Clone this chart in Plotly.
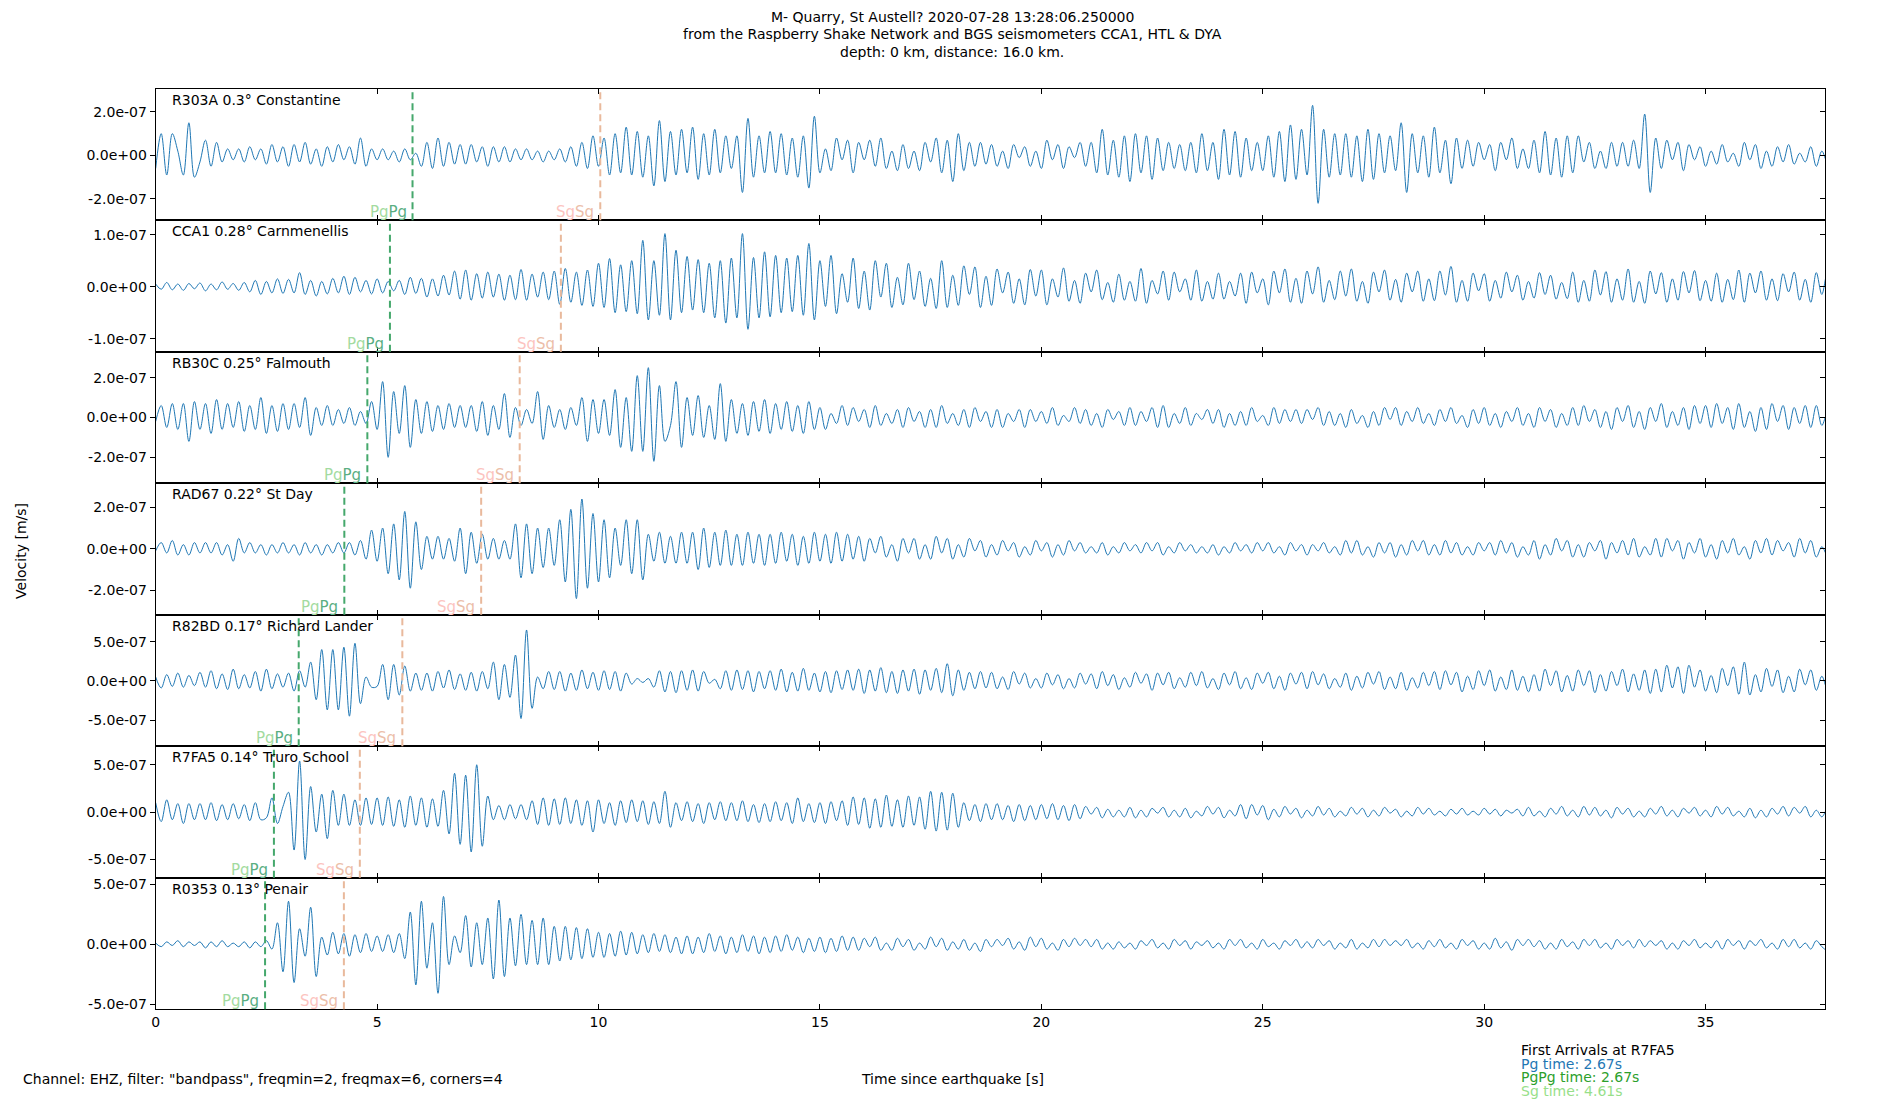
import numpy as np
import plotly.graph_objects as go

# ---------------- data ----------------
station_labels = ["R303A 0.3° Constantine", "CCA1 0.28° Carnmenellis", "RB30C 0.25° Falmouth",
                  "RAD67 0.22° St Day", "R82BD 0.17° Richard Lander", "R7FA5 0.14° Truro School",
                  "R0353 0.13° Penair"]
pg_times = [5.80, 5.29, 4.78, 4.26, 3.23, 2.67, 2.47]
sg_times = [10.04, 9.15, 8.22, 7.35, 5.57, 4.61, 4.25]
sample_interval = 0.125   # s between read-off extremes
value_unit = 1e-8         # m/s, unit of the velocity lists below

# velocities (units of 1e-8 m/s), 8 values per second
vel_r303a = [
    -6, 10, -9, 10, 2, -9, 15, -10,   -3, 7, -5, 6, -3, 3, -2, 3,   -3, 4, -2, 3, -4, 5, -3, 4,
    -5, 5, -3, 6, -4, 3, -5, 4,       -3, 5, -2, 4, -4, 8, -5, 3,   -2, 3, -2, 2, -3, 3, -2, 1,
    -5, 6, -6, 8, -5, 6, -4, 5,       -4, 5, -3, 4, -5, 4, -3, 4,   -3, 3, -2, 3, -2, 2, -3, 2,
    -2, 3, -3, 4, -5, 6, -6, 9,       -5, 8, -9, 10, -8, 13, -9, 11, -10, 9, -14, 16, -12, 11, -9, 12,
    -8, 13, -11, 10, -9, 12, -8, 9,   -6, 9, -17, 17, -10, 9, -8, 11, -8, 10, -9, 8, -10, 9, -15, 18,
    -8, 3, -7, 8, -2, 7, -8, 6,       -2, 7, -5, 8, -6, 2, -7, 5,   -6, 2, -7, 6, -3, 8, -8, 7,
    -12, 10, -7, 6, -5, 6, -4, 5,     -5, 2, -6, 5, -1, 4, -5, 2,   -6, 7, -2, 5, -6, 4, -1, 6,
    -5, 6, -8, 12, -9, 7, -10, 9,     -12, 10, -8, 9, -11, 8, -7, 6, -6, 5, -7, 6, -8, 10, -7, 6,
    -11, 12, -9, 11, -10, 8, -7, 6,   -7, 9, -10, 11, -12, 14, -11, 12, -9, 23, -22, 12, -10, 10, -9, 10,
    -10, 9, -12, 12, -11, 10, -8, 9,  -7, 15, -17, 10, -8, 9, -10, 13, -8, 7, -13, 8, -6, 7, -5, 6,
    -2, 5, -7, 6, -2, 8, -6, 3,       -6, 7, -8, 11, -9, 8, -10, 9,  -8, 9, -3, 6, -6, 2, -6, 6,
    -5, 6, -5, 7, -6, 19, -17, 8,     -6, 7, -2, 6, -7, 5, -2, 4,   -5, 2, -4, 5, -3, 1, -5, 6,
    -2, 5, -6, 2, -5, 4, -3, 5,       -4, 1, -3, 4, -5, 2, -3, 2]

vel_cca1 = [
    0.5, -0.5, 0.8, -0.6, 0.5, -0.7, 0.6, -0.4,   0.7, -0.8, 0.5, -0.6, 0.9, -0.5, 0.6, -0.7,
    0.8, -1.0, 1.2, -1.5, 1.0, -1.2, 1.5, -1.3,   1.4, -1.2, 2.7, -1.5, 1.2, -1.8, 1.0, -1.4,
    1.6, -1.2, 2.0, -1.5, 1.8, -1.0, 1.2, -1.4,   1.5, -1.2, 1.0, -0.8, 1.2, -1.5, 1.8, -1.3,
    1.6, -2.0, 1.5, -1.8, 2.2, -1.6, 3.0, -2.4,   3.2, -2.6, 2.5, -2.2, 2.8, -2.0, 2.4, -2.6,
    2.2, -2.5, 3.3, -2.6, 2.4, -2.0, 2.8, -2.5,   3.0, -3.4, 3.5, -3.0, 2.8, -3.6, 3.2, -3.8,
    4.5, -4.0, 5.4, -5.0, 4.2, -4.8, 5.0, -5.2,   8.9, -6.4, 5.0, -5.5, 10.2, -6.4, 7.0, -5.0,
    5.8, -4.5, 5.2, -5.0, 4.5, -6.0, 5.0, -7.0,   5.5, -6.0, 10.2, -8.2, 5.6, -6.0, 6.7, -5.8,
    6.0, -5.0, 5.5, -4.8, 6.0, -5.5, 8.3, -6.4,   5.0, -3.8, 6.0, -5.2, 2.5, -3.0, 5.5, -4.2,
    3.0, -4.5, 5.0, -2.0, 4.5, -4.0, 1.8, -3.5,   4.5, -2.5, 3.0, -3.8, 1.6, -4.2, 5.0, -4.0,
    2.2, -3.6, 4.0, -1.5, 3.8, -4.0, 2.0, -3.6,   3.4, -1.2, 2.8, -3.2, 1.5, -3.5, 3.3, -1.8,
    3.2, -3.5, 1.5, -2.0, 3.6, -2.8, 1.2, -3.2,   2.6, -1.0, 3.2, -2.5, 0.8, -3.0, 2.4, -2.6,
    1.0, -2.8, 3.5, -3.2, 1.2, -1.4, 3.0, -2.6,   2.8, -1.0, 1.5, -2.6, 3.2, -2.8, 1.0, -2.4,
    2.6, -2.4, 1.0, -1.8, 2.6, -3.2, 2.8, -1.2,   1.5, -3.5, 3.0, -1.2, 3.4, -3.0, 1.6, -3.2,
    3.0, -1.4, 3.8, -3.0, 1.2, -2.5, 3.0, -1.8,   3.4, -2.8, 1.0, -3.2, 2.8, -1.0, 3.2, -2.6,
    1.4, -3.0, 2.6, -1.0, 3.0, -2.8, 1.5, -2.7,   3.0, -1.6, 3.9, -3.0, 1.2, -2.8, 2.6, -0.8,
    2.5, -2.8, 1.2, -2.2, 2.8, -1.0, 2.2, -2.6,   1.0, -2.2, 2.7, -1.5, 2.2, -2.4, 0.8, -2.3,
    2.8, -3.0, 1.2, -2.8, 3.2, -1.6, 2.9, -3.0,   1.5, -2.6, 3.4, -3.0, 1.0, -3.2, 3.0, -1.4,
    2.7, -3.0, 1.5, -2.6, 2.9, -1.2, 3.1, -2.7,   1.2, -2.8, 2.6, -3.0, 1.4, -2.5, 3.2, -3.0,
    2.6, -1.2, 3.0, -2.6, 1.5, -2.7, 2.5, -1.0,   2.8, -2.6, 1.4, -3.0, 2.7, -1.5, 2.6, -1.0]

vel_rb30c = [
    -2, 6, -5, 7, -6, 7, -12, 8,      -6, 7, -8, 9, -6, 7, -5, 8,   -7, 6, -6, 10, -8, 6, -7, 7,
    -6, 7, -5, 10, -9, 5, -4, 6,      -4, 4, -3, 5, -4, 3, -3, 8,   -6, 18, -20, 13, -8, 16, -15, 9,
    -8, 8, -7, 6, -6, 7, -5, 6,       -5, 6, -7, 8, -9, 6, -6, 12,  -10, 5, -4, 4, -3, 13, -11, 6,
    -5, 4, -6, 5, -4, 10, -12, 9,     -8, 9, -9, 14, -15, 10, -17, 21, -17, 25, -22, 16, -12, -4, 18, -15,
    10, -9, 11, -10, 6, -11, 17, -12, 9, -8, 7, -9, 8, -7, 9, -8,   7, -6, 8, -7, 6, -8, 8, -6,
    5, -6, 2, -3, 6, -4, 5, -2,       4, -5, 6, -4, 2, -3, 4, -5,   5, -2, 3, -5, 4, -5, 6, -3,
    2, -4, 4, -5, 5, -2, 3, -5,       4, -5, 2, -2, 4, -5, 4, -2,   3, -3, 5, -4, 1, -2, 5, -3,
    4, -4, 2, -5, 4, -1, 3, -4,       5, -4, 3, -2, 5, -5, 6, -5,   2, -3, 5, -4, 2, -1, 4, -3,
    4, -5, 2, -4, 3, -4, 5, -2,       1, -4, 5, -3, 4, -2, 4, -3,   4, -1, 5, -4, 3, -4, 2, -5,
    4, -3, 1, -5, 3, -4, 5, -1,       5, -4, 3, -2, 5, -3, 2, -4,   4, -2, 5, -3, 1, -5, 4, -3,
    5, -4, 2, -5, 3, -2, 5, -4,       2, -5, 5, -2, 4, -5, 2, -4,   5, -4, 6, -2, 4, -5, 3, -6,
    5, -2, 6, -5, 3, -6, 5, -2,       7, -5, 3, -4, 5, -6, 6, -3,   6, -5, 7, -3, 5, -6, 7, -5,
    3, -7, 5, -6, 7, -2, 6, -6,       5, -3, 6, -5, 6, -4, 2, -3]

vel_rad67 = [
    -1, 3, -2, 4, -3, 2, -3, 3,       -2, 3, -2, 3, -3, 2, -6, 5,   -2, 3, -2, 2, -3, 2, -2, 3,
    -2, 2, -3, 3, -2, 2, -3, 2,       -2, 3, -2, 3, -3, 4, -5, 9,   -6, 10, -12, 12, -15, 18, -19, 13,
    -10, 6, -5, 6, -5, 5, -6, 10,     -12, 8, -7, 7, -5, 5, -5, 4,  -5, 12, -14, 12, -12, 10, -9, 10,
    -8, 14, -16, 19, -24, 24, -19, 17, -16, 14, -14, 10, -8, 14, -12, 14, -15, 7, -6, 8, -7, 6, -7, 8,
    -7, 8, -10, 10, -9, 8, -8, 9,     -8, 7, -8, 8, -7, 7, -8, 7,   -7, 8, -6, 7, -8, 6, -7, 8,
    -6, 7, -7, 8, -6, 7, -5, 6,       -6, 5, -2, 6, -4, 2, -6, 5,   -2, 5, -5, 2, -5, 6, -2, 5,
    -5, 2, -4, 5, -1, 4, -4, 2,       -3, 4, -1, 3, -4, 1, -3, 4,   -1, 3, -4, 2, -3, 4, -1, 3,
    -2, 1, -2, 3, -3, 1, -2, 3,       -1, 2, -2, 3, -1, 3, -3, 1,   -2, 3, -1, 2, -2, 1, -2, 2,
    -3, 1, -2, 3, -1, 2, -2, 3,       -1, 3, -2, 1, -3, 3, -1, 2,   -3, 2, -1, 3, -2, 1, -3, 4,
    -2, 4, -3, 1, -4, 3, -2, 3,       -4, 2, -3, 4, -1, 4, -3, 2,   -3, 4, -2, 3, -3, 1, -3, 3,
    -1, 3, -3, 4, -2, 3, -4, 1,       -3, 4, -5, 2, -3, 5, -1, 4,   -4, 2, -4, 3, -1, 4, -5, 3,
    -2, 4, -3, 5, -4, 1, -3, 5,       -4, 5, -1, 4, -5, 3, -2, 5,   -4, 2, -5, 4, -2, 5, -3, 1,
    -5, 4, -2, 5, -3, 4, -1, 3,       -4, 5, -2, 4, -4, 1, -3, 2]

vel_r82bd = [
    5, -9, 8, -7, 10, -8, 7, -6,      11, -8, 13, -10, 9, -11, 15, -10, 8, -9, 12, -13, 15, -10, 9, -8,
    10, -13, 13, -8, 24, -24, 40, -37, 40, -37, 43, -45, 48, -29, 5, -8, -7, 21, -24, 21, -18, 19, -13, 10,
    -12, 10, -13, 12, -9, 14, -11, 9, -12, 11, -13, 12, -10, 24, -24, 21, -21, 33, -48, 65, -35, 5, -10, 12,
    -11, 12, -13, 10, -12, 14, -10, 11, -12, 13, -11, 12, -13, 10, -4, 3, -2, 3, -8, 13, -14, 12, -15, 13,
    -12, 14, -13, 12, -3, 2, -10, 13, -12, 14, -11, 13, -14, 12, -10, 13, -12, 15, -14, 11, -13, 16, -12, 10,
    -14, 12, -15, 13, -11, 14, -12, 15, -16, 14, -13, 17, -15, 12, -16, 14, -13, 15, -17, 14, -12, 16, -15, 22,
    -19, 14, -12, 11, -10, 12, -9, 11, -10, 5, -11, 12, -4, 10, -9, 3,  -9, 10, -5, 8, -10, 3, -9, 10,
    -4, 9, -10, 12, -6, 8, -11, 4,    -8, 11, -3, 9, -12, 10, -5, 11, -10, 4, -8, 11, -6, 12, -9, 3,
    -11, 10, -5, 12, -10, 4, -11, 10, -3, 11, -10, 6, -12, 10, -4, 11, -10, 12, -5, 9, -10, 3, -8, 10,
    -12, 6, -9, 11, -4, 12, -11, 5,   -10, 11, -12, 4, -9, 11, -6, 12, -11, 13, -5, 11, -14, 6, -11, 13,
    -6, 14, -13, 5, -11, 14, -12, 6,  -14, 8, -13, 15, -6, 13, -14, 7, -13, 14, -6, 13, -15, 8, -13, 12,
    -6, 15, -14, 9, -12, 14, -16, 15, -14, 20, -9, 18, -16, 20, -8, 14, -13, 7, -15, 16, -6, 18, -17, 24,
    -18, 8, -14, 16, -7, 14, -15, 6,  -14, 15, -5, 14, -12, 6, -10, 6]

vel_r7fa5 = [
    10, -10, 13, -8, 9, -12, 9, -8,   9, -8, 10, -9, 8, -8, 9, -7,  8, -9, 10, -8, -6, 15, -12, 6,
    21, -40, 54, -50, 27, -21, 19, -28, 23, -14, 19, -14, 13, -14, 15, -13, 15, -14, 16, -15, 13, -16, 17, -14,
    15, -16, 14, -15, 23, -23, 41, -34, 39, -42, 50, -36, 17, -8, 7, -8, 8, -7, 8, -8, 12, -13, 15, -14,
    14, -13, 15, -12, 13, -14, 12, -21, 13, -12, 10, -14, 12, -11, 13, -10, 12, -13, 11, -12, 22, -16, 10, -9,
    11, -10, 9, -12, 10, -8, 11, -9,  10, -9, 12, -10, 8, -11, 9, -10, 11, -9, 10, -12, 15, -10, 9, -11,
    10, -12, 11, -9, 12, -14, 16, -13, 15, -17, 14, -16, 18, -15, 13, -16, 17, -14, 16, -18, 22, -20, 21, -19,
    20, -16, 10, -9, 8, -10, 9, -8,   9, -8, 7, -10, 8, -9, 7, -8,  8, -7, 9, -8, 7, -9, 8, -7,
    6, -2, 5, -6, 3, -5, 2, -5,       5, -6, 2, -5, 4, -1, 5, -5,   2, -5, 4, -6, 1, -4, 6, -2,
    5, -6, 2, -4, 8, -7, 8, -3,       7, -8, 3, -5, 6, -2, 4, -6,   2, -4, 6, -3, 4, -5, 1, -4,
    5, -2, 4, -5, 2, -4, 5, -1,       3, -5, 1, -4, 5, -2, 4, -3,   1, -4, 3, -2, 4, -3, 1, -3,
    4, -2, 3, -4, 2, -1, 3, -4,       5, -4, 1, -5, 4, -2, 6, -4,   2, -5, 6, -3, 5, -4, 2, -6,
    5, -2, 4, -5, 1, -5, 4, -2,       6, -4, 2, -5, 4, -1, 5, -4,   2, -5, 6, -2, 5, -4, 1, -5,
    4, -6, 2, -5, 4, -2, 6, -4,       5, -1, 6, -5, 2, -5, 3, -2]

vel_r0353 = [
    1, -2, 2, -1, 3, -2, 2, -1,       2, -3, 2, -2, 3, -2, 1, -2,   2, -3, 2, -2, 3, -4, 18, -23,
    36, -32, 13, -10, 31, -27, 6, -9, 10, -8, 9, -10, 8, -7, 9, -6, 7, -6, 8, -7, 9, -12, 27, -34,
    36, -20, 18, -41, 40, -17, 7, -7, 24, -19, 18, -17, 22, -29, 37, -27, 22, -18, 25, -17, 20, -17, 22, -17,
    15, -14, 15, -13, 14, -12, 13, -11, 10, -11, 9, -10, 11, -9, 10, -8, 8, -7, 9, -6, 8, -7, 6, -8,
    7, -8, 6, -7, 9, -6, 7, -8,       6, -7, 8, -6, 7, -8, 6, -7,   7, -6, 8, -5, 6, -7, 5, -6,
    6, -7, 5, -6, 7, -5, 6, -5,       5, -2, 6, -5, 1, -5, 5, -2,   4, -5, 1, -4, 6, -2, 5, -5,
    2, -4, 4, -5, 1, -6, 4, -2,       4, -1, 5, -4, 2, -5, 6, -2,   5, -4, 1, -5, 4, -2, 5, -1,
    4, -2, 4, -4, 1, -4, 2, -3,       1, -4, 3, -1, 4, -3, 1, -4,   4, -1, 3, -4, 2, -1, 3, -3,
    1, -4, 4, -1, 4, -3, 1, -4,       4, -2, 1, -4, 3, -1, 4, -3,   2, -3, 4, -1, 3, -4, 1, -3,
    4, -4, 1, -3, 4, -2, 4, -1,       3, -1, 4, -3, 1, -4, 3, -2,   4, -3, 1, -4, 4, -1, 3, -4,
    1, -4, 5, -3, 2, -5, 4, -1,       4, -2, 3, -4, 1, -4, 4, -2,   2, -4, 4, -1, 4, -3, 1, -4,
    4, -1, 3, -3, 4, -2, 3, -1,       3, -4, 1, -4, 3, -1, 4, -3,   1, -3, 3, -4, 4, -1, 3, -4,
    3, -1, 4, -3, 1, -4, 4, -2,       4, -3, 1, -4, 3, -2, -5, 2]

traces_vel = [vel_r303a, vel_cca1, vel_rb30c, vel_rad67, vel_r82bd, vel_r7fa5, vel_r0353]

y_limits = [(-2.975e-7, 3.066e-7), (-1.251e-7, 1.278e-7), (-3.30e-7, 3.30e-7), (-3.18e-7, 3.16e-7),
            (-8.34e-7, 8.44e-7), (-6.93e-7, 6.95e-7), (-5.44e-7, 5.56e-7)]
y_tick_vals = [[-2e-7, 0, 2e-7], [-1e-7, 0, 1e-7], [-2e-7, 0, 2e-7], [-2e-7, 0, 2e-7],
               [-5e-7, 0, 5e-7], [-5e-7, 0, 5e-7], [-5e-7, 0, 5e-7]]
x_tick_vals = [0, 5, 10, 15, 20, 25, 30, 35]
x_limits = (0, 37.7)

title_lines = ["M- Quarry, St Austell? 2020-07-28 13:28:06.250000",
               "from the Raspberry Shake Network and BGS seismometers CCA1, HTL & DYA",
               "depth: 0 km, distance: 16.0 km."]
arrival_station = "R7FA5"
arrival_pg, arrival_pgpg, arrival_sg = 2.67, 2.67, 4.61

# ---------------- styling / layout ----------------
W, H = 1900, 1100
FONT = "DejaVu Sans"
LEFT, RIGHT = 152, 1825
TOP, PANEL_H = 88, 132
trace_color = "#1f77b4"
pg_line_color = "#45a86c"
sg_line_color = "#e9b99c"
pg_lbl1, pg_lbl2 = "#a3dba0", "#5aae82"
sg_lbl1, sg_lbl2 = "#fcc4c0", "#ecbea9"


def sfx(n):
    return "" if n == 1 else str(n)


fig = go.Figure()
layout = dict(width=W, height=H, margin=dict(l=0, r=0, t=0, b=0),
              paper_bgcolor="white", plot_bgcolor="white", showlegend=False,
              font=dict(family=FONT, size=14, color="black"))
shapes, annotations = [], []
xdom = [LEFT / W, RIGHT / W]

for i, vals in enumerate(traces_vel):
    n = i + 1
    xs, ys, yr = sfx(n), sfx(n), sfx(n + 7)
    top_px = TOP + PANEL_H * i
    ydom = [1 - (top_px + PANEL_H) / H, 1 - top_px / H]
    t = np.arange(len(vals)) * sample_interval
    v = np.array(vals, dtype=float) * value_unit
    fig.add_trace(go.Scatter(x=t, y=v, mode="lines", xaxis=f"x{xs}", yaxis=f"y{ys}",
                             line=dict(color=trace_color, width=1, shape="spline", smoothing=1.0),
                             hoverinfo="skip"))
    # empty trace to realise the right-side (inner) tick axis
    fig.add_trace(go.Scatter(x=[], y=[], xaxis=f"x{xs}", yaxis=f"y{yr}", hoverinfo="skip"))

    layout[f"xaxis{xs}"] = dict(domain=xdom, anchor=f"y{ys}", range=list(x_limits),
                                tickvals=x_tick_vals, ticktext=[str(v_) for v_ in x_tick_vals],
                                showticklabels=(i == 6), ticks="inside", ticklen=5, tickwidth=1,
                                tickcolor="black", showline=True, linecolor="black", linewidth=1,
                                mirror="ticks", showgrid=False, zeroline=False,
                                tickfont=dict(family=FONT, size=14, color="black"))
    ytext = [f"{tv:.1e}" for tv in y_tick_vals[i]]
    layout[f"yaxis{ys}"] = dict(domain=ydom, anchor=f"x{xs}", range=list(y_limits[i]),
                                tickvals=y_tick_vals[i], ticktext=ytext, ticks="outside", ticklen=5,
                                tickwidth=1, tickcolor="black", showline=True, linecolor="black",
                                linewidth=1, mirror=True, showgrid=False, zeroline=False,
                                tickfont=dict(family=FONT, size=14, color="black"))
    layout[f"yaxis{yr}"] = dict(overlaying=f"y{ys}", side="right", anchor=f"x{xs}",
                                range=list(y_limits[i]), tickvals=y_tick_vals[i],
                                showticklabels=False, ticks="inside", ticklen=5, tickwidth=1,
                                tickcolor="black", showline=False, showgrid=False, zeroline=False)

    for tt, col in ((pg_times[i], pg_line_color), (sg_times[i], sg_line_color)):
        shapes.append(dict(type="line", xref=f"x{xs}", yref=f"y{ys} domain", x0=tt, x1=tt, y0=0, y1=1,
                           line=dict(color=col, width=2, dash="7px,4px")))
    annotations.append(dict(xref=f"x{xs}", yref=f"y{ys} domain", x=pg_times[i], y=0,
                            xanchor="right", yanchor="bottom", xshift=-4, yshift=-3, showarrow=False,
                            text=f"<span style='color:{pg_lbl1}'>Pg</span><span style='color:{pg_lbl2}'>Pg</span>",
                            font=dict(family=FONT, size=15)))
    annotations.append(dict(xref=f"x{xs}", yref=f"y{ys} domain", x=sg_times[i], y=0,
                            xanchor="right", yanchor="bottom", xshift=-4, yshift=-3, showarrow=False,
                            text=f"<span style='color:{sg_lbl1}'>Sg</span><span style='color:{sg_lbl2}'>Sg</span>",
                            font=dict(family=FONT, size=15)))
    annotations.append(dict(xref="paper", yref="paper", x=166 / W, y=1 - (top_px + 11) / H,
                            xanchor="left", yanchor="middle", showarrow=False, text=station_labels[i],
                            font=dict(family=FONT, size=14, color="black")))

# titles and figure texts
for k, line in enumerate(title_lines):
    annotations.append(dict(xref="paper", yref="paper", x=0.5, y=1 - (16 + 17.5 * k) / H,
                            xanchor="center", yanchor="middle", showarrow=False, text=line,
                            font=dict(family=FONT, size=14, color="black")))
annotations.append(dict(xref="paper", yref="paper", x=17 / W, y=1 - 552 / H, textangle=-90,
                        xanchor="center", yanchor="middle", showarrow=False, text="Velocity [m/s]",
                        font=dict(family=FONT, size=14, color="black")))
annotations.append(dict(xref="paper", yref="paper", x=0.5, y=1 - 1082 / H, xanchor="center",
                        yanchor="middle", showarrow=False, text="Time since earthquake [s]",
                        font=dict(family=FONT, size=14, color="black")))
annotations.append(dict(xref="paper", yref="paper", x=17 / W, y=1 - 1082 / H, xanchor="left",
                        yanchor="middle", showarrow=False,
                        text='Channel: EHZ, filter: "bandpass", freqmin=2, freqmax=6, corners=4',
                        font=dict(family=FONT, size=14, color="black")))
legend_lines = [(f"First Arrivals at {arrival_station}", "black"),
                (f"Pg time: {arrival_pg:.2f}s", "#1f77b4"),
                (f"PgPg time: {arrival_pgpg:.2f}s", "#2ca02c"),
                (f"Sg time: {arrival_sg:.2f}s", "#98df8a")]
for k, (txt, col) in enumerate(legend_lines):
    annotations.append(dict(xref="paper", yref="paper", x=1518 / W, y=1 - (1053 + 13.7 * k) / H,
                            xanchor="left", yanchor="middle", showarrow=False, text=txt,
                            font=dict(family=FONT, size=14, color=col)))

layout["shapes"] = shapes
layout["annotations"] = annotations
fig.update_layout(**layout)

fig.write_html("out.html", config={"displayModeBar": False},
               post_script="document.body.style.margin='0px';")
